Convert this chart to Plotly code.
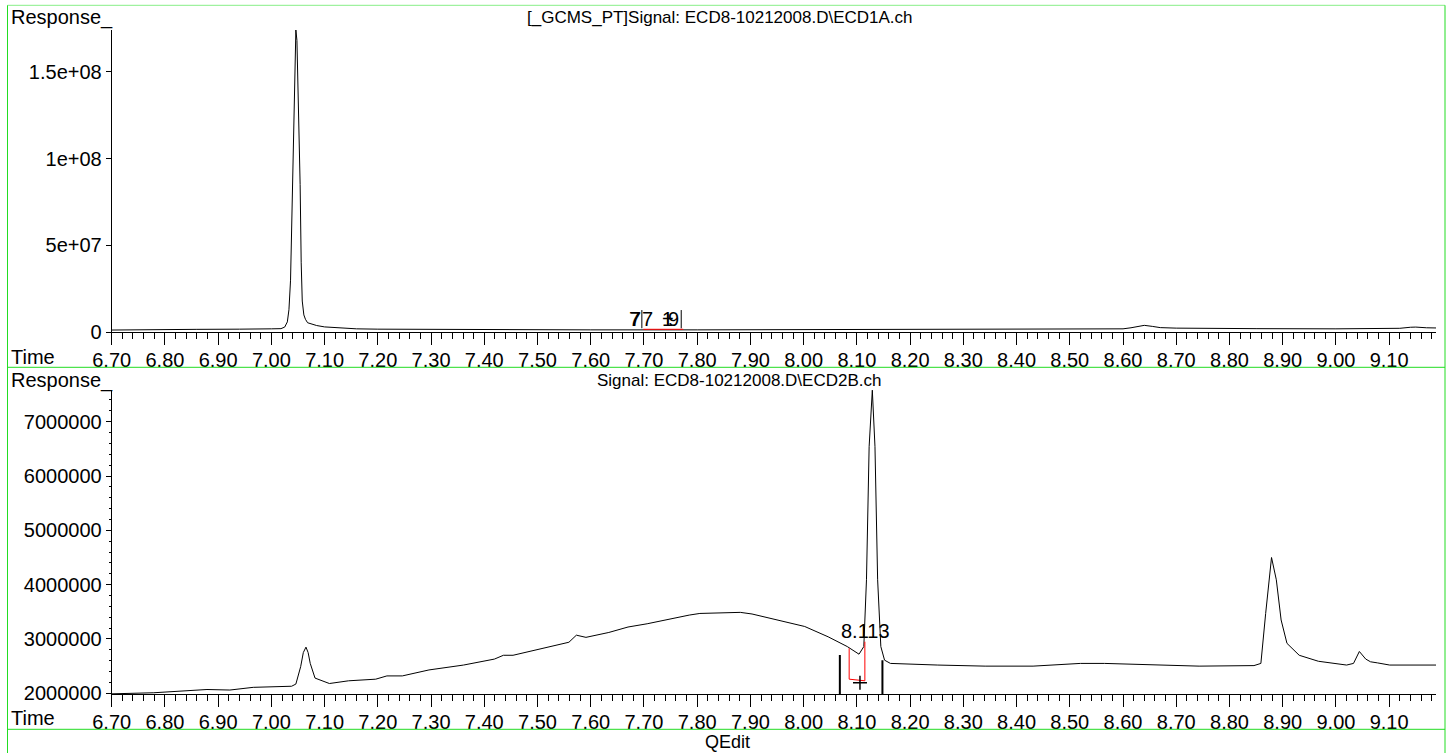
import plotly.graph_objects as go

# ---------------- data ----------------
top_title = "[_GCMS_PT]Signal: ECD8-10212008.D\\ECD1A.ch"
bot_title = "Signal: ECD8-10212008.D\\ECD2B.ch"

top_time = [6.70, 6.76, 6.84, 6.86, 6.94, 6.96, 7.00, 7.018, 7.025, 7.030, 7.033, 7.036,
            7.039, 7.042, 7.044, 7.046, 7.048, 7.051, 7.054, 7.056, 7.058, 7.061, 7.064,
            7.068, 7.075, 7.085, 7.10, 7.13, 7.16, 7.20, 7.30, 7.45, 7.60, 7.80, 8.00, 8.20,
            8.40, 8.55, 8.60, 8.615, 8.63, 8.64, 8.655, 8.67, 8.70, 8.75, 8.85, 9.00, 9.10,
            9.12, 9.14, 9.15, 9.17, 9.188]
top_resp = [1.3e6, 1.3e6, 1.4e6, 1.7e6, 1.8e6, 2.0e6, 2.0e6, 2.1e6, 3.0e6, 6.0e6, 13e6, 30e6,
            80e6, 130e6, 160e6, 174e6, 168e6, 130e6, 85e6, 40e6, 18e6, 10e6, 7.5e6,
            5.5e6, 4.8e6, 3.9e6, 3.1e6, 2.4e6, 2.0e6, 1.8e6, 1.6e6, 1.5e6, 1.4e6, 1.4e6, 1.5e6, 1.5e6,
            1.6e6, 1.8e6, 2.0e6, 2.6e6, 3.6e6, 4.0e6, 3.4e6, 2.7e6, 2.4e6, 2.2e6, 2.1e6, 2.0e6, 2.0e6,
            2.3e6, 2.9e6, 3.0e6, 2.6e6, 2.5e6]

bot_time = [6.700, 6.779, 6.879, 6.922, 6.966, 7.038, 7.046, 7.055, 7.060, 7.065,
            7.069, 7.073, 7.082, 7.095, 7.109, 7.145, 7.196, 7.217, 7.246, 7.296,
            7.361, 7.419, 7.436, 7.454, 7.512, 7.559, 7.573, 7.591, 7.634, 7.670,
            7.706, 7.756, 7.785, 7.805, 7.881, 7.903, 7.948, 8.002, 8.046, 8.082,
            8.104, 8.113, 8.118, 8.123, 8.129, 8.134, 8.139, 8.145, 8.152, 8.163,
            8.252, 8.341, 8.431, 8.520, 8.565, 8.654, 8.743, 8.846, 8.859, 8.868,
            8.879, 8.888, 8.897, 8.908, 8.931, 8.967, 9.020, 9.033, 9.044, 9.056,
            9.065, 9.078, 9.101, 9.188]
bot_resp = [1.99e6, 2.01e6, 2.07e6, 2.06e6, 2.11e6, 2.13e6, 2.17e6, 2.49e6, 2.75e6, 2.85e6,
            2.75e6, 2.55e6, 2.28e6, 2.23e6, 2.18e6, 2.23e6, 2.26e6, 2.32e6, 2.32e6, 2.43e6,
            2.52e6, 2.63e6, 2.70e6, 2.70e6, 2.84e6, 2.94e6, 3.07e6, 3.03e6, 3.12e6, 3.22e6,
            3.28e6, 3.39e6, 3.44e6, 3.47e6, 3.49e6, 3.46e6, 3.36e6, 3.23e6, 3.04e6, 2.86e6,
            2.72e6, 2.86e6, 4.09e6, 6.54e6, 7.58e6, 6.54e6, 4.09e6, 2.86e6, 2.61e6, 2.55e6,
            2.52e6, 2.50e6, 2.50e6, 2.55e6, 2.55e6, 2.53e6, 2.50e6, 2.51e6, 2.55e6, 3.47e6,
            4.50e6, 4.09e6, 3.35e6, 2.92e6, 2.70e6, 2.59e6, 2.52e6, 2.55e6, 2.77e6, 2.63e6,
            2.58e6, 2.56e6, 2.52e6, 2.52e6]
assert len(top_time) == len(top_resp) and len(bot_time) == len(bot_resp)

top_yticks = [0, 5e7, 1e8, 1.5e8]
top_ytext = ["0", "5e+07", "1e+08", "1.5e+08"]
bot_yticks = [2e6, 3e6, 4e6, 5e6, 6e6, 7e6]
bot_ytext = ["2000000", "3000000", "4000000", "5000000", "6000000", "7000000"]

# top panel integration marks (7.70-7.77)
top_int_time = [7.6987, 7.7738]
top_int_base = [1.73e6, 1.73e6]
top_bar_time = [7.696, 7.770]
top_bar_range = [2.3e6, 12.8e6]
top_lbl_chars = ["7", "7", "7", "1", "+", "9"]
top_lbl_time = [7.6815, 7.6845, 7.7075, 7.745, 7.745, 7.756]
top_lbl_resp = 7.6e6

# bottom panel integration of peak 8.113
int_time = [8.0855, 8.115]
int_base = [2.26e6, 2.23e6]
int_top = [2.83e6, 2.95e6]
event_time = [8.068, 8.148]
event_top = [2.705e6, 2.61e6]
cross_time, cross_resp = 8.1058, 2.195e6
peak_label, peak_label_time, peak_label_resp = "8.113", 8.116, 3.15e6

# ---------------- layout helpers ----------------
W, H = 1455, 753
def px(x):
    return x / W
def py(y):
    return 1 - y / H

FONT = "Arial, Liberation Sans, sans-serif"
FS = 20
TFS = 17
GREEN = "#22dd22"

fig = go.Figure()
fig.add_trace(go.Scatter(x=top_time, y=top_resp, mode="lines",
                         line=dict(color="black", width=1), xaxis="x", yaxis="y", hoverinfo="skip"))
fig.add_trace(go.Scatter(x=bot_time, y=bot_resp, mode="lines",
                         line=dict(color="black", width=1), xaxis="x2", yaxis="y2", hoverinfo="skip"))

fig.add_trace(go.Scatter(x=top_int_time, y=top_int_base, mode="lines",
                         line=dict(color="red", width=1), xaxis="x", yaxis="y", hoverinfo="skip"))
for t in top_bar_time:
    fig.add_trace(go.Scatter(x=[t, t], y=top_bar_range, mode="lines",
                             line=dict(color="black", width=1), xaxis="x", yaxis="y", hoverinfo="skip"))

fig.add_trace(go.Scatter(x=[int_time[0], int_time[0], int_time[1], int_time[1]],
                         y=[int_top[0], int_base[0], int_base[1], int_top[1]], mode="lines",
                         line=dict(color="red", width=1), xaxis="x2", yaxis="y2", hoverinfo="skip"))
for t, v in zip(event_time, event_top):
    fig.add_trace(go.Scatter(x=[t, t], y=[1.9816e6, v], mode="lines",
                             line=dict(color="black", width=2), xaxis="x2", yaxis="y2", hoverinfo="skip"))
fig.add_trace(go.Scatter(x=[cross_time], y=[cross_resp], mode="markers",
                         marker=dict(symbol="cross-thin", size=10, line=dict(width=1.5, color="black")),
                         xaxis="x2", yaxis="y2", hoverinfo="skip"))

xcommon = dict(range=[6.70, 9.188], tickmode="linear", tick0=6.70, dtick=0.1, tickformat=".2f",
               showline=True, linecolor="black", linewidth=1, ticks="outside", ticklen=12,
               tickwidth=1, tickcolor="black", showgrid=False, zeroline=False,
               ticklabelstandoff=-2,
               tickfont=dict(family=FONT, size=FS, color="black"),
               minor=dict(tick0=6.70, dtick=0.02, ticks="outside", ticklen=6, tickcolor="black",
                          tickwidth=1, showgrid=False),
               domain=[px(111.7), px(1436)], fixedrange=True, automargin=False)
ycommon = dict(showline=True, linecolor="black", linewidth=1, ticks="outside", ticklen=5,
               tickcolor="black", showgrid=False, zeroline=False, tickmode="array",
               tickfont=dict(family=FONT, size=FS, color="black"), fixedrange=True,
               automargin=False)

fig.update_layout(
    width=W, height=H, autosize=False,
    margin=dict(l=0, r=0, t=0, b=0, pad=0),
    paper_bgcolor="white", plot_bgcolor="white",
    showlegend=False, hovermode=False,
    xaxis=dict(xcommon, anchor="y"),
    xaxis2=dict(xcommon, anchor="y2"),
    yaxis=dict(ycommon, domain=[py(332.3), py(30)], range=[0, 1.740e8],
               tickvals=top_yticks, ticktext=top_ytext, anchor="x"),
    yaxis2=dict(ycommon, domain=[py(694.3), py(390)], range=[1.9816e6, 7.5836e6],
                tickvals=bot_yticks, ticktext=bot_ytext, anchor="x2",
                minor=dict(dtick=2e5, tick0=2e6, ticks="outside", ticklen=2, tickcolor="black",
                           showgrid=False)),
)

ann = []
def ptext(text, x, y, xanchor="left", size=FS):
    ann.append(dict(text=text, x=px(x), y=py(y), xref="paper", yref="paper", xanchor=xanchor,
                    yanchor="middle", showarrow=False, font=dict(family=FONT, size=size, color="black")))

ptext("Response_", 9, 18)
ptext(top_title, 720, 18, "center", TFS)
ptext("Time", 9, 356.5)
ptext("Response_", 9, 380)
ptext(bot_title, 739, 380, "center", TFS)
ptext("Time", 9, 718)
ptext("QEdit", 727, 742, "center", 18)

for ch, t in zip(top_lbl_chars, top_lbl_time):
    ann.append(dict(text=ch, x=t, y=top_lbl_resp, xref="x", yref="y", showarrow=False,
                    xanchor="center", yanchor="middle", font=dict(family=FONT, size=FS, color="black")))
ann.append(dict(text=peak_label, x=peak_label_time, y=peak_label_resp, xref="x2", yref="y2",
                showarrow=False, xanchor="center", yanchor="middle",
                font=dict(family=FONT, size=FS, color="black")))
fig.update_layout(annotations=ann)

shapes = []
def pline(x0, y0, x1, y1, color=GREEN):
    shapes.append(dict(type="line", xref="paper", yref="paper", x0=px(x0), y0=py(y0),
                       x1=px(x1), y1=py(y1), line=dict(color=color, width=1)))
pline(7.5, 5.3, 1445, 5.3, "#88ee88")
pline(7.5, 5.3, 7.5, 753)
pline(1445, 5.3, 1445, 753)
pline(7.5, 367.3, 1445, 367.3)
pline(7.5, 729.3, 1445, 729.3)
fig.update_layout(shapes=shapes)

fig.write_html("out.html", config={"displayModeBar": False, "responsive": False},
               post_script="document.body.style.margin='0';document.body.style.overflow='hidden';"
                           "document.documentElement.style.overflow='hidden';")
